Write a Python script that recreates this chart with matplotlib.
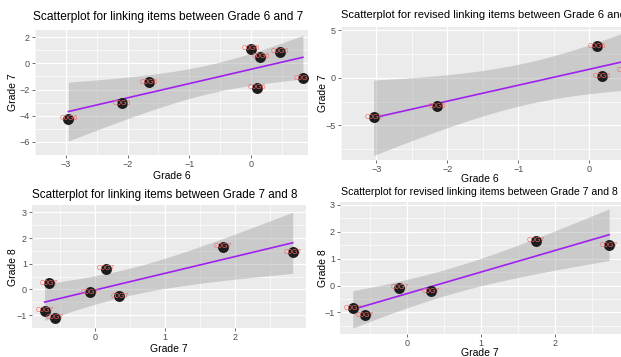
import numpy as np
import matplotlib.pyplot as plt

plt.rcParams['font.family'] = ['Liberation Sans', 'DejaVu Sans']

W, H = 621, 357

# values
g6_a = [-2.96, -2.09, -1.65, 0.00, 0.15, 0.47, 0.09, 0.84]
g7_a = [-4.24, -3.06, -1.43, 1.10, 0.52, 0.87, -1.88, -1.13]
g6_b = [-3.04, -2.15, 0.11, 0.18, 0.52]
g7_b = [-4.16, -2.97, 3.33, 0.18, 0.78]
g7_c = [-0.72, -0.655, -0.57, -0.07, 0.157, 0.347, 1.82, 2.82]
g8_c = [-0.82, 0.24, -1.10, -0.10, 0.81, -0.27, 1.66, 1.45]
g7_d = [-0.728, -0.562, -0.10, 0.328, 1.745, 2.73]
g8_d = [-0.85, -1.10, -0.085, -0.21, 1.67, 1.49]

lab6 = 'C0G6'
lab7 = 'C0G7'

# 97.5% t quantiles by degrees of freedom
T95 = {3: 3.182, 4: 2.776, 6: 2.447}


def lm_band(x, y):
    x = np.asarray(x)
    y = np.asarray(y)
    n = len(x)
    b, a = np.polyfit(x, y, 1)
    xs = np.linspace(x.min(), x.max(), 80)
    fit = a + b * xs
    resid = y - (a + b * x)
    s = np.sqrt((resid ** 2).sum() / (n - 2))
    sxx = ((x - x.mean()) ** 2).sum()
    se = s * np.sqrt(1 / n + (xs - x.mean()) ** 2 / sxx)
    t = T95[n - 2]
    return xs, fit, fit - t * se, fit + t * se


def px_axes(fig, x0, y0, x1, y1):
    return fig.add_axes([x0 / W, 1 - y1 / H, (x1 - x0) / W, (y1 - y0) / H])


def ftext(fig, x, y, s, **kw):
    fig.text(x / W, 1 - y / H, s, **kw)


def panel(ax, x, y, lab, xlim, ylim, xticks, yticks):
    ax.set_facecolor('#EBEBEB')
    for sp in ax.spines.values():
        sp.set_visible(False)
    ax.set_xlim(xlim)
    ax.set_ylim(ylim)
    ax.set_xticks(xticks)
    ax.set_yticks(yticks)
    step_x = xticks[1] - xticks[0]
    step_y = yticks[1] - yticks[0]
    ax.set_xticks(np.arange(xticks[0] - step_x / 2, xlim[1], step_x), minor=True)
    ax.set_yticks(np.arange(yticks[0] - step_y / 2, ylim[1], step_y), minor=True)
    ax.grid(which='major', color='white', lw=0.9)
    ax.grid(which='minor', color='white', lw=0.45)
    ax.set_axisbelow(True)
    ax.tick_params(which='major', length=2.2, width=0.5, color='#333333',
                   labelsize=6.5, labelcolor='#4D4D4D', pad=1.5)
    ax.tick_params(which='minor', length=0)
    xs, fit, lo, hi = lm_band(x, y)
    ax.fill_between(xs, lo, hi, color='#999999', alpha=0.4, lw=0, zorder=2)
    ax.plot(xs, fit, color='#A020F0', lw=1.2, zorder=3)
    ax.scatter(x, y, s=62, color='#1C1C1C', lw=0, zorder=4)
    for xi, yi in zip(x, y):
        ax.text(xi, yi, lab, color='#F26B6B', fontsize=5, ha='center',
                va='center', zorder=5, clip_on=True)


fig = plt.figure(figsize=(W / 100, H / 100), dpi=100)

# top left
ax = px_axes(fig, 35, 30, 308, 155)
panel(ax, g6_a, g7_a, lab6, (-3.123, 0.923), (-6.30, 2.545),
      [-3, -2, -1, 0], [-6, -4, -2, 0, 2])
ftext(fig, 33, 17, 'Scatterplot for linking items between Grade 6 and 7',
      fontsize=8.6, va='center', ha='left')
ftext(fig, 172, 176, 'Grade 6', fontsize=7.5, ha='center', va='center')
ftext(fig, 13, 92, 'Grade 7', fontsize=7.5, ha='center', va='center', rotation=90)

# top right
ax = px_axes(fig, 341, 27, 621, 160)
panel(ax, g6_b, g7_b, lab6, (-3.219, 0.449), (-8.64, 5.35),
      [-3, -2, -1, 0], [-5, 0, 5])
ftext(fig, 341, 15, 'Scatterplot for revised linking items between Grade 6 and 7',
      fontsize=8.05, va='center', ha='left')
ftext(fig, 480, 179, 'Grade 6', fontsize=7.5, ha='center', va='center')
ftext(fig, 323, 93, 'Grade 7', fontsize=7.5, ha='center', va='center', rotation=90)

# bottom left
ax = px_axes(fig, 32, 205, 306, 328)
panel(ax, g7_c, g8_c, lab7, (-0.90, 3.01), (-1.42, 3.29),
      [0, 1, 2], [-1, 0, 1, 2, 3])
ftext(fig, 32, 195, 'Scatterplot for linking items between Grade 7 and 8',
      fontsize=8.4, va='center', ha='left')
ftext(fig, 169, 349, 'Grade 7', fontsize=7.5, ha='center', va='center')
ftext(fig, 13, 267, 'Grade 8', fontsize=7.5, ha='center', va='center', rotation=90)

# bottom right
ax = px_axes(fig, 340, 202, 621, 334)
panel(ax, g7_d, g8_d, lab7, (-0.90, 2.89), (-1.80, 3.10),
      [0, 1, 2], [-1, 0, 1, 2, 3])
ftext(fig, 341, 192, 'Scatterplot for revised linking items between Grade 7 and 8',
      fontsize=7.55, va='center', ha='left')
ftext(fig, 480, 353, 'Grade 7', fontsize=7.5, ha='center', va='center')
ftext(fig, 323, 268, 'Grade 8', fontsize=7.5, ha='center', va='center', rotation=90)

fig.savefig('out.png', dpi=100)
